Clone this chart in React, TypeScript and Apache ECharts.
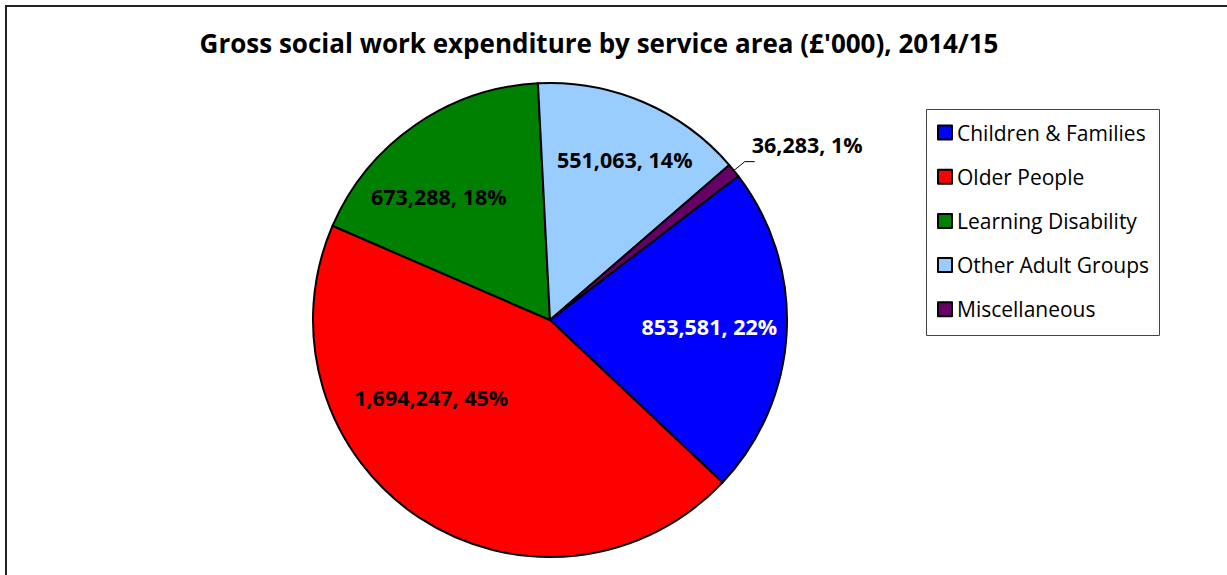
import React, { useEffect, useRef } from "react";
import * as echarts from "echarts";

const categories = ["Children & Families", "Older People", "Learning Disability", "Other Adult Groups", "Miscellaneous"];
const values = [853581, 1694247, 673288, 551063, 36283];
const percents = [22, 45, 18, 14, 1];
const colors = ["#0000FF", "#FF0000", "#008000", "#99CCFF", "#660066"];
const labelColors = ["#FFFFFF", "#000000", "#000000", "#000000", "#000000"];
const titleText = "Gross social work expenditure by service area (£'000), 2014/15";

// label nudges from the default position (Excel "best fit" look)
const labelShift: [number, number][] = [[38, 0], [-52, -24], [-42, -24], [27, -49], [-8, -17]];

const fmt = (v: number) => v.toLocaleString("en-GB");

export default function App() {
  const ref = useRef<HTMLDivElement>(null);
  useEffect(() => {
    if (!ref.current) return;
    const chart = echarts.init(ref.current, null, { renderer: "svg" });
    const font = "'Open Sans', sans-serif";
    chart.setOption({
      animation: false,
      backgroundColor: "#fff",
      title: {
        text: titleText,
        left: 594,
        textAlign: "center",
        top: 25,
        textStyle: { fontFamily: font, fontWeight: "bold", fontSize: 26, color: "#000" },
      },
      graphic: [
        {
          type: "rect",
          shape: { x: 6, y: 6, width: 1400, height: 800 },
          style: { fill: "none", stroke: "#222", lineWidth: 2 },
          silent: true,
        },
        {
          type: "rect",
          shape: { x: 926.5, y: 109.5, width: 233, height: 226 },
          style: { fill: "#fff", stroke: "#444", lineWidth: 1 },
          silent: true,
          z: 0,
        },
      ],
      legend: {
        orient: "vertical",
        left: 926,
        top: 109,
        padding: [13, 10, 10, 11],
        itemWidth: 14,
        itemHeight: 14,
        itemGap: 23.2,
        icon: "rect",
        data: categories,
        textStyle: { fontFamily: font, fontSize: 21, color: "#000", lineHeight: 20, padding: [0, 0, 0, 0] },
        z: 5,
      },
      series: [
        {
          type: "pie",
          center: [550, 320],
          radius: 237,
          startAngle: 37.4,
          clockwise: true,
          label: {
            show: true,
            position: "inside",
            fontFamily: font,
            fontWeight: "bold",
            fontSize: 21.5,
            formatter: (p: any) => `${fmt(p.value)}, ${percents[p.dataIndex]}%`,
          },
          labelLayout: (p: any) => {
            const s = labelShift[p.dataIndex];
            return { dx: s[0], dy: s[1] };
          },
          labelLine: { show: true, length: 14, length2: 10, lineStyle: { color: "#000", width: 1 } },
          itemStyle: { borderColor: "#000", borderWidth: 2 },
          data: categories.map((name, i) => ({
            name,
            value: values[i],
            itemStyle: { color: colors[i] },
            label: {
              color: labelColors[i],
              position: i === 4 ? "outside" : "inside",
            },
            labelLine: { show: i === 4 },
          })),
        },
      ],
    });
    return () => chart.dispose();
  }, []);
  return (
    <div
      ref={ref}
      style={{ position: "absolute", left: 0, top: 0, width: 1227, height: 575 }}
    />
  );
}
